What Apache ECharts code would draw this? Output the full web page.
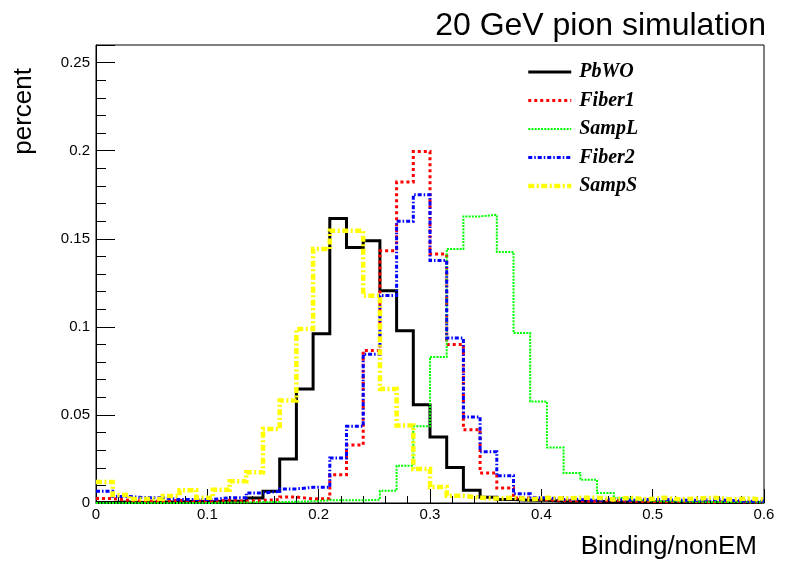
<!DOCTYPE html>
<html>
<head>
<meta charset="utf-8">
<script src="https://cdn.jsdelivr.net/npm/echarts@6/dist/echarts.min.js"></script>
<style>
html,body{margin:0;padding:0;background:#fff;}
#chart{width:796px;height:572px;}
</style>
</head>
<body>
<div id="chart"></div>
<script>
// Bin edges (40 bins of width 0.015 from 0 to 0.6)
const binEdges = [0, 0.015, 0.03, 0.045, 0.06, 0.075, 0.09, 0.105, 0.12, 0.135,
  0.15, 0.165, 0.18, 0.195, 0.21, 0.225, 0.24, 0.255, 0.27, 0.285,
  0.3, 0.315, 0.33, 0.345, 0.36, 0.375, 0.39, 0.405, 0.42, 0.435,
  0.45, 0.465, 0.48, 0.495, 0.51, 0.525, 0.54, 0.555, 0.57, 0.585, 0.6];

const pbwo = [0.0003, 0.0005, 0.0003, 0.0005, 0.0005, 0.001, 0.0007, 0.001, 0.0012, 0.0028,
  0.0066, 0.025, 0.0647, 0.0961, 0.1615, 0.145, 0.1489, 0.1205, 0.0978, 0.0558,
  0.0375, 0.0202, 0.0072, 0.0032, 0.002, 0.0015, 0.0015, 0.001, 0.001, 0.001,
  0.0007, 0.0005, 0.0005, 0.0005, 0.0004, 0.0005, 0.0003, 0.0003, 0.0003, 0.0003];

const fiber1 = [0.0025, 0.0015, 0.001, 0.001, 0.0015, 0.001, 0.001, 0.0015, 0.001, 0.0015,
  0.0019, 0.0034, 0.0023, 0.0025, 0.016, 0.0329, 0.0866, 0.1432, 0.1822, 0.1996,
  0.1413, 0.090, 0.0416, 0.017, 0.0085, 0.0028, 0.0018, 0.0015, 0.0012, 0.001,
  0.0015, 0.001, 0.001, 0.0007, 0.001, 0.0007, 0.0005, 0.001, 0.0005, 0.0005];

const sampL = [0, 0, 0, 0, 0, 0, 0, 0.0003, 0.0003, 0.0005,
  0.0005, 0.0007, 0.001, 0.0015, 0.0015, 0.0015, 0.0019, 0.007, 0.0212, 0.0435,
  0.0829, 0.1442, 0.1627, 0.1636, 0.1425, 0.0965, 0.0576, 0.0315, 0.017, 0.0132,
  0.0057, 0.0028, 0.0015, 0.001, 0.001, 0.0007, 0.0005, 0.0005, 0.0005, 0.0003];

const fiber2 = [0.0066, 0.0037, 0.003, 0.003, 0.002, 0.002, 0.002, 0.003, 0.003, 0.0057,
  0.0066, 0.008, 0.0089, 0.0089, 0.0255, 0.0435, 0.0845, 0.1178, 0.160, 0.175,
  0.1377, 0.0936, 0.0488, 0.0291, 0.0155, 0.0053, 0.003, 0.002, 0.002, 0.0015,
  0.002, 0.0015, 0.002, 0.002, 0.0015, 0.0015, 0.002, 0.0015, 0.001, 0.001];

const sampS = [0.0119, 0.0045, 0.0023, 0.0023, 0.004, 0.0072, 0.003, 0.0075, 0.0123, 0.0174,
  0.042, 0.0582, 0.0988, 0.1442, 0.1545, 0.1545, 0.1177, 0.0647, 0.044, 0.0193,
  0.0091, 0.0041, 0.003, 0.0025, 0.003, 0.002, 0.003, 0.0025, 0.003, 0.003,
  0.002, 0.003, 0.002, 0.003, 0.002, 0.0025, 0.003, 0.002, 0.0025, 0.002];

const seriesNames = ['PbWO', 'Fiber1', 'SampL', 'Fiber2', 'SampS'];
const xTickLabels = ['0', '0.1', '0.2', '0.3', '0.4', '0.5', '0.6'];
const yTickLabels = ['0', '0.05', '0.1', '0.15', '0.2', '0.25'];

const styles = [
  {color: '#000000', width: 3, type: 'solid'},
  {color: '#ff0000', width: 3, type: [3, 3]},
  {color: '#00ff00', width: 2, type: [2, 1.2]},
  {color: '#0000ff', width: 3, type: [4, 2, 1.5, 2]},
  {color: '#ffff00', width: 4.5, type: [6, 2.5, 2, 2.5]}
];
const values = [pbwo, fiber1, sampL, fiber2, sampS];

function histPoints(vals) {
  return binEdges.map((x, i) => [x, vals[Math.min(i, vals.length - 1)]]);
}

const font = '"Liberation Sans", Arial, Helvetica, sans-serif';

const chart = echarts.init(document.getElementById('chart'), null, {renderer: 'canvas'});
chart.setOption({
  animation: false,
  backgroundColor: '#ffffff',
  title: {
    text: '20 GeV pion simulation',
    right: 30, top: 10, padding: 0,
    textStyle: {fontFamily: font, fontWeight: 'normal', fontSize: 32, color: '#000'}
  },
  grid: {left: 96, right: 32, top: 45, bottom: 69, show: true, borderColor: '#000', borderWidth: 1, containLabel: false},
  legend: {
    orient: 'vertical', left: 526, top: 62, padding: 0,
    itemWidth: 43, itemHeight: 14, itemGap: 8.5,
    itemStyle: {opacity: 0},
    selectedMode: false,
    textStyle: {fontFamily: '"Liberation Serif", "Times New Roman", serif', fontWeight: 'bold', fontStyle: 'italic', fontSize: 20, color: '#000', padding: [0, 0, 0, 3]},
    data: seriesNames.map((n, i) => ({name: n, lineStyle: {width: styles[i].width, type: styles[i].type, color: styles[i].color}}))
  },
  xAxis: [{
    type: 'value', min: 0, max: 0.6, interval: 0.1, position: 'bottom',
    axisLine: {show: true, onZero: false, lineStyle: {color: '#000', width: 1}},
    axisTick: {show: true, inside: true, length: 14, lineStyle: {color: '#000', width: 1}},
    minorTick: {show: true, splitNumber: 5, length: 7, lineStyle: {color: '#000', width: 1}},
    splitLine: {show: false},
    axisLabel: {
      margin: 4, color: '#000', fontFamily: font, fontSize: 15,
      formatter: v => { const i = Math.round(v / 0.1); return Math.abs(v - i * 0.1) < 1e-9 && i < xTickLabels.length ? xTickLabels[i] : ''; }
    }
  }],
  yAxis: [{
    type: 'value', min: 0, max: 0.26, interval: 0.05, position: 'left',
    axisLine: {show: true, onZero: false, lineStyle: {color: '#000', width: 1}},
    axisTick: {show: true, inside: true, length: 19, lineStyle: {color: '#000', width: 1}},
    splitLine: {show: false},
    axisLabel: {
      margin: 6, color: '#000', fontFamily: font, fontSize: 15,
      formatter: v => { const i = Math.round(v / 0.05); return Math.abs(v - i * 0.05) < 1e-9 && i < yTickLabels.length ? yTickLabels[i] : ''; }
    }
  }, {
    type: 'value', min: 0, max: 0.26, interval: 0.01, position: 'left',
    axisLine: {show: false, onZero: false},
    axisTick: {show: true, inside: true, length: 10, lineStyle: {color: '#000', width: 1}},
    splitLine: {show: false},
    axisLabel: {show: false}
  }],
  series: seriesNames.map((n, i) => ({
    name: n, type: 'line', step: 'end', symbol: 'none', showSymbol: false,
    xAxisIndex: 0, yAxisIndex: 0,
    data: histPoints(values[i]),
    lineStyle: {color: styles[i].color, width: styles[i].width, type: styles[i].type, cap: 'butt', join: 'miter'},
    itemStyle: {color: styles[i].color},
    emphasis: {disabled: true},
    z: 2 + i
  })),
  graphic: [
    {type: 'text', right: 39, top: 534,
     style: {text: 'Binding/nonEM', font: '26px ' + font, fill: '#000'}},
    {type: 'text', x: 24, y: 68, rotation: Math.PI / 2,
     style: {text: 'percent', font: '26px ' + font, fill: '#000', textAlign: 'right', textVerticalAlign: 'middle'}}
  ]
});
</script>
</body>
</html>
